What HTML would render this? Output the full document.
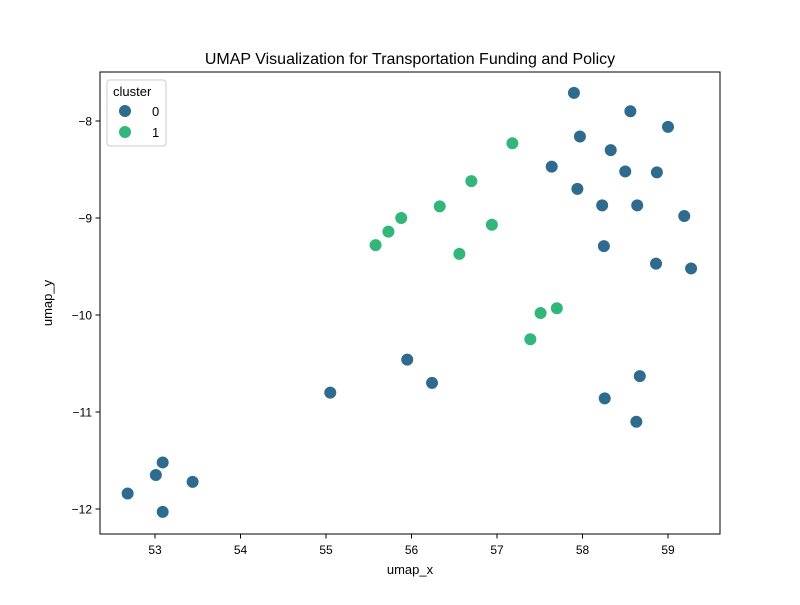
<!DOCTYPE html>
<html><head><meta charset="utf-8"><style>
body{margin:0;background:#fff;}
svg{font-family:"Liberation Sans","DejaVu Sans",sans-serif;}
</style></head><body>
<svg id="chart" width="800" height="600">
<rect x="100" y="72" width="620" height="462" fill="#fff" stroke="#000" stroke-width="1"/>
<text x="410" y="64" text-anchor="middle" font-size="16">UMAP Visualization for Transportation Funding and Policy</text>
<text x="410" y="574" text-anchor="middle" font-size="13">umap_x</text>
<text x="52" y="303" text-anchor="middle" font-size="13" transform="rotate(-90 52 303)">umap_y</text>
<g id="ticks"></g>
<g id="points"></g>
<g>
<rect x="107" y="80" width="59" height="66" rx="3" fill="#fff" fill-opacity="0.8" stroke="#ccc"/>
<text x="113" y="96" font-size="13">cluster</text>
<circle cx="125" cy="111" r="6.5" fill="#2e6b8e" stroke="#fff" stroke-width="1"/>
<text x="152" y="116" font-size="13">0</text>
<circle cx="125" cy="132" r="6.5" fill="#32b67a" stroke="#fff" stroke-width="1"/>
<text x="152" y="137" font-size="13">1</text>
</g>
</svg>
<script>
const xTicks=[53,54,55,56,57,58,59];
const yTicks=[-8,-9,-10,-11,-12];
const c0x=[57.90,58.56,59.0,57.97,58.33,57.64,58.50,58.87,57.94,58.23,58.64,59.19,58.25,58.86,59.27,55.95,56.24,55.05,58.67,58.26,58.63,53.09,53.01,53.44,52.68,53.09];
const c0y=[-7.71,-7.90,-8.06,-8.16,-8.30,-8.47,-8.52,-8.53,-8.70,-8.87,-8.87,-8.98,-9.29,-9.47,-9.52,-10.46,-10.70,-10.80,-10.63,-10.86,-11.10,-11.52,-11.65,-11.72,-11.84,-12.03];
const c1x=[57.18,56.70,55.88,56.33,55.73,55.58,56.94,56.56,57.70,57.51,57.39];
const c1y=[-8.23,-8.62,-9.00,-8.88,-9.14,-9.28,-9.07,-9.37,-9.93,-9.98,-10.25];
const NS="http://www.w3.org/2000/svg";
function sx(v){return 155+(v-53)*85.5;}
function sy(v){return 121-(v+8)*97;}
const tg=document.getElementById('ticks');
xTicks.forEach(t=>{
 const l=document.createElementNS(NS,'line');
 l.setAttribute('x1',sx(t));l.setAttribute('x2',sx(t));l.setAttribute('y1',534);l.setAttribute('y2',538.5);l.setAttribute('stroke','#000');
 
 
 tg.appendChild(l);
 const tx=document.createElementNS(NS,'text');
 tx.setAttribute('x',sx(t));tx.setAttribute('y',554);tx.setAttribute('text-anchor','middle');tx.setAttribute('font-size','12');
 tx.textContent=t;
 
 
 tg.appendChild(tx);
});
yTicks.forEach(t=>{
 const l=document.createElementNS(NS,'line');
 l.setAttribute('x1',95.5);l.setAttribute('x2',100);l.setAttribute('y1',sy(t));l.setAttribute('y2',sy(t));l.setAttribute('stroke','#000');
 
 
 tg.appendChild(l);
 const tx=document.createElementNS(NS,'text');
 tx.setAttribute('x',92);tx.setAttribute('y',sy(t)+4.5);tx.setAttribute('text-anchor','end');tx.setAttribute('font-size','12');
 tx.textContent='\u2212'+Math.abs(t);
 
 
 tg.appendChild(tx);
});
const pg=document.getElementById('points');
function draw(xs,ys,col,name){
 xs.forEach((x,i)=>{
  const c=document.createElementNS(NS,'circle');
  c.setAttribute('cx',sx(x));c.setAttribute('cy',sy(ys[i]));c.setAttribute('r',6.5);
  c.setAttribute('fill',col);c.setAttribute('stroke','#fff');c.setAttribute('stroke-width','1');
  
  
  pg.appendChild(c);
 });
}
draw(c0x,c0y,'#2e6b8e','point-cluster-0');
draw(c1x,c1y,'#32b67a','point-cluster-1');
</script>
</body></html>
